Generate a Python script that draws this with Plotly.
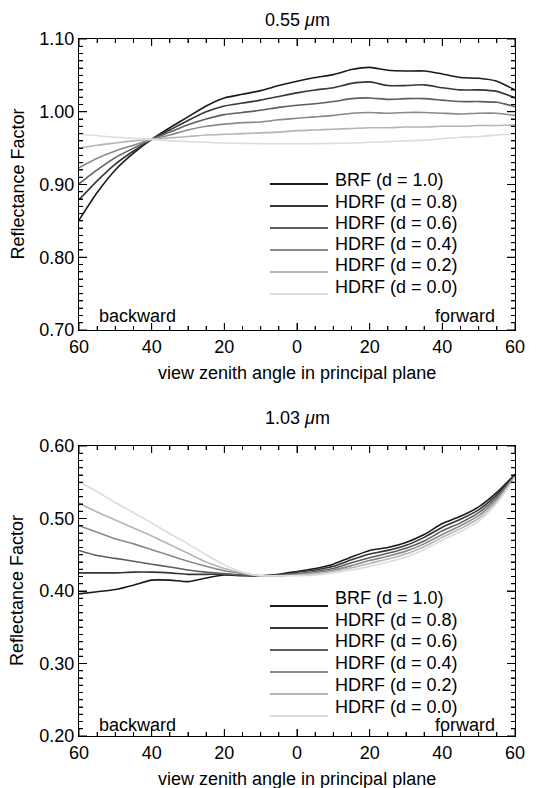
import plotly.graph_objects as go

# ---------------- data ----------------
angles = [-60, -55, -50, -45, -40, -35, -30, -25, -20, -15, -10, -5, 0,
          5, 10, 15, 20, 25, 30, 35, 40, 45, 50, 55, 60]
# backward angles are shown as positive zenith angles
x_label_alias = {"\u221260": "60", "\u221240": "40", "\u221220": "20",
                 "-60": "60", "-40": "40", "-20": "20"}

series_names = ["BRF (d = 1.0)", "HDRF (d = 0.8)", "HDRF (d = 0.6)",
                "HDRF (d = 0.4)", "HDRF (d = 0.2)", "HDRF (d = 0.0)"]

# 0.55 um panel
v055_d10 = [0.851, 0.889, 0.920, 0.943, 0.962, 0.978, 0.993, 1.008, 1.019, 1.024, 1.029, 1.036, 1.042,
            1.047, 1.051, 1.058, 1.061, 1.057, 1.056, 1.056, 1.052, 1.047, 1.046, 1.042, 1.030]
v055_d08 = [0.879, 0.905, 0.928, 0.946, 0.962, 0.975, 0.988, 1.000, 1.008, 1.012, 1.016, 1.021, 1.026,
            1.030, 1.033, 1.039, 1.041, 1.036, 1.036, 1.037, 1.033, 1.030, 1.030, 1.028, 1.019]
v055_d06 = [0.901, 0.920, 0.937, 0.950, 0.962, 0.972, 0.982, 0.990, 0.996, 0.999, 1.002, 1.006, 1.009,
            1.011, 1.014, 1.018, 1.019, 1.017, 1.018, 1.018, 1.016, 1.014, 1.014, 1.013, 1.007]
v055_d04 = [0.923, 0.936, 0.946, 0.954, 0.962, 0.968, 0.975, 0.980, 0.983, 0.985, 0.986, 0.989, 0.991,
            0.993, 0.995, 0.998, 0.999, 0.998, 0.999, 0.999, 0.998, 0.997, 0.998, 0.998, 0.995]
v055_d02 = [0.950, 0.954, 0.957, 0.960, 0.962, 0.964, 0.966, 0.968, 0.969, 0.970, 0.971, 0.972, 0.974,
            0.975, 0.976, 0.977, 0.978, 0.978, 0.979, 0.979, 0.980, 0.980, 0.981, 0.981, 0.982]
v055_d00 = [0.969, 0.967, 0.965, 0.9635, 0.962, 0.960, 0.959, 0.958, 0.957, 0.9565, 0.9562, 0.956, 0.956,
            0.9562, 0.9565, 0.957, 0.958, 0.959, 0.960, 0.961, 0.963, 0.965, 0.966, 0.968, 0.970]

# 1.03 um panel
v103_d10 = [0.396, 0.399, 0.402, 0.408, 0.415, 0.415, 0.413, 0.418, 0.422, 0.421, 0.421, 0.423, 0.427,
            0.431, 0.437, 0.447, 0.456, 0.460, 0.467, 0.478, 0.493, 0.503, 0.516, 0.536, 0.561]
v103_d08 = [0.425, 0.425, 0.425, 0.426, 0.426, 0.425, 0.423, 0.423, 0.423, 0.422, 0.421, 0.422, 0.426,
            0.429, 0.434, 0.443, 0.451, 0.456, 0.463, 0.474, 0.488, 0.499, 0.512, 0.533, 0.560]
v103_d06 = [0.456, 0.449, 0.445, 0.441, 0.437, 0.433, 0.429, 0.426, 0.424, 0.422, 0.421, 0.422, 0.424,
            0.427, 0.431, 0.439, 0.446, 0.452, 0.459, 0.469, 0.483, 0.494, 0.508, 0.530, 0.559]
v103_d04 = [0.490, 0.481, 0.472, 0.465, 0.457, 0.449, 0.441, 0.434, 0.428, 0.424, 0.421, 0.421, 0.423,
            0.425, 0.429, 0.435, 0.442, 0.448, 0.455, 0.465, 0.478, 0.490, 0.504, 0.527, 0.558]
v103_d02 = [0.521, 0.509, 0.498, 0.487, 0.476, 0.464, 0.452, 0.440, 0.431, 0.425, 0.421, 0.421, 0.422,
            0.424, 0.427, 0.432, 0.438, 0.444, 0.451, 0.461, 0.474, 0.486, 0.500, 0.524, 0.557]
v103_d00 = [0.551, 0.537, 0.522, 0.508, 0.494, 0.479, 0.465, 0.450, 0.436, 0.426, 0.421, 0.421, 0.421,
            0.422, 0.425, 0.429, 0.434, 0.440, 0.447, 0.457, 0.470, 0.482, 0.496, 0.521, 0.556]

panel_titles = ["0.55 <i>\u03bc</i>m", "1.03 <i>\u03bc</i>m"]
y_ranges = [[0.70, 1.10], [0.20, 0.60]]

panel_data = [
    [v055_d10, v055_d08, v055_d06, v055_d04, v055_d02, v055_d00],
    [v103_d10, v103_d08, v103_d06, v103_d04, v103_d02, v103_d00],
]

# ---------------- style ----------------
W, H = 542, 788
L, R, T, B = 79, 515, 39, 736
colors = ["#1a1a1a", "#363636", "#5e5e5e", "#8a8a8a", "#b5b5b5", "#dcdcdc"]
FONT = "Liberation Sans, Arial, Helvetica, sans-serif"
FS = 18

def px_x(p):
    return (p - L) / (R - L)

def px_y(p):
    return (B - p) / (B - T)

panel_pix = [(39, 330), (446, 736)]
title_pix = [20, 418]
legend_line_y = [[184, 206, 228, 250, 272, 294], [606, 628, 650, 672, 694, 716]]
legend_text_y = [[180, 202, 223, 244, 265, 287], [598, 620, 641, 663, 685, 707]]
bf_y = [316, 725]

# tick mark positions (axis furniture, drawn on the axis scales)
x_tick_pos = list(range(-60, 61, 5))

fig = go.Figure()
annotations = []
shapes = []

for k in range(2):
    xa = "x" if k == 0 else "x2"
    ya = "y" if k == 0 else "y2"
    for i, vals in enumerate(panel_data[k]):
        fig.add_trace(go.Scatter(
            x=angles, y=vals, mode="lines", name=series_names[i],
            line=dict(color=colors[i], width=1.6, shape="spline", smoothing=0.6),
            xaxis=xa, yaxis=ya, showlegend=False))

    top, bot = panel_pix[k]
    panel_h = bot - top
    panel_w = R - L

    # tick marks on all four sides (inside)
    for v in x_tick_pos:
        ln = 7 if v % 20 == 0 else 4
        f = ln / panel_h
        shapes.append(dict(type="line", xref=xa, yref=ya + " domain", x0=v, x1=v, y0=0, y1=f,
                           line=dict(color="black", width=1)))
        shapes.append(dict(type="line", xref=xa, yref=ya + " domain", x0=v, x1=v, y0=1, y1=1 - f,
                           line=dict(color="black", width=1)))
    lo = y_ranges[k][0]
    for j in range(41):
        v = round(lo + 0.01 * j, 2)
        ln = 8 if j % 10 == 0 else 4
        f = ln / panel_w
        shapes.append(dict(type="line", xref=xa + " domain", yref=ya, x0=0, x1=f, y0=v, y1=v,
                           line=dict(color="black", width=1)))
        shapes.append(dict(type="line", xref=xa + " domain", yref=ya, x0=1, x1=1 - f, y0=v, y1=v,
                           line=dict(color="black", width=1)))

    annotations.append(dict(text=panel_titles[k], xref="paper", yref="paper",
                            x=px_x((L + R) / 2), y=px_y(title_pix[k]), showarrow=False,
                            xanchor="center", yanchor="middle", font=dict(size=FS)))
    annotations.append(dict(text="Reflectance Factor", xref="paper", yref="paper",
                            x=px_x(17), y=px_y((top + bot) / 2), textangle=-90,
                            showarrow=False, xanchor="center", yanchor="middle",
                            font=dict(size=FS)))
    annotations.append(dict(text="view zenith angle in principal plane", xref="paper", yref="paper",
                            x=px_x((L + R) / 2), y=px_y(bot + 43), showarrow=False,
                            xanchor="center", yanchor="middle", font=dict(size=FS)))
    annotations.append(dict(text="backward", xref="paper", yref="paper",
                            x=px_x(97), y=px_y(bf_y[k]), showarrow=False,
                            xanchor="left", yanchor="middle", font=dict(size=FS)))
    annotations.append(dict(text="forward", xref="paper", yref="paper",
                            x=px_x(497), y=px_y(bf_y[k]), showarrow=False,
                            xanchor="right", yanchor="middle", font=dict(size=FS)))
    for i, name in enumerate(series_names):
        ly = legend_line_y[k][i]
        shapes.append(dict(type="line", xref="paper", yref="paper",
                           x0=px_x(270), x1=px_x(328), y0=px_y(ly), y1=px_y(ly),
                           line=dict(color=colors[i], width=2.2)))
        annotations.append(dict(text=name, xref="paper", yref="paper",
                                x=px_x(333), y=px_y(legend_text_y[k][i]), showarrow=False,
                                xanchor="left", yanchor="middle", font=dict(size=FS)))

axis_common = dict(showline=True, linecolor="black", linewidth=1.2, mirror="allticks",
                   ticks="inside", tickcolor="black", tickwidth=1.2, showgrid=False, zeroline=False,
                   tickfont=dict(size=FS, color="black"))

def xaxis_cfg(anchor):
    return dict(domain=[0, 1], anchor=anchor, range=[-60, 60], dtick=20, tick0=0, ticklen=7,
                labelalias=x_label_alias,
                minor=dict(dtick=5, ticklen=4, ticks="inside"), **axis_common)

def yaxis_cfg(anchor, dom, k):
    return dict(domain=dom, anchor=anchor, range=y_ranges[k], dtick=0.1, tick0=0,
                tickformat=".2f", ticklen=8,
                minor=dict(dtick=0.01, ticklen=4, ticks="inside"), **axis_common)

fig.update_layout(
    template="none",
    width=W, height=H,
    margin=dict(l=L, r=W - R, t=T, b=H - B),
    paper_bgcolor="white", plot_bgcolor="white",
    font=dict(family=FONT, size=FS, color="black"),
    showlegend=False,
    xaxis=xaxis_cfg("y"),
    yaxis=yaxis_cfg("x", [px_y(330), 1.0], 0),
    xaxis2=xaxis_cfg("y2"),
    yaxis2=yaxis_cfg("x2", [0.0, px_y(446)], 1),
    annotations=annotations,
    shapes=shapes,
)

fig.write_html("out.html")
